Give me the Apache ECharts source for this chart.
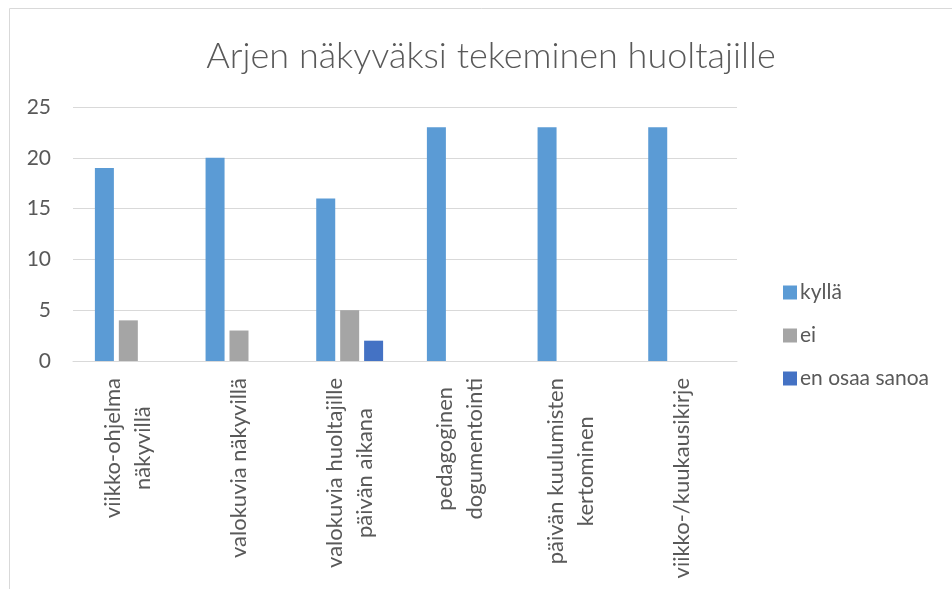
<!DOCTYPE html>
<html><head><meta charset="utf-8">
<script src="https://cdn.jsdelivr.net/npm/echarts@6/dist/echarts.min.js"></script>
<style>html,body{margin:0;padding:0;background:#fff}#c{width:952px;height:589px}</style>
</head><body><div id="c"></div>
<script>
const categories = [
  "viikko-ohjelma\nnäkyvillä",
  "valokuvia näkyvillä",
  "valokuvia huoltajille\npäivän aikana",
  "pedagoginen\ndogumentointi",
  "päivän kuulumisten\nkertominen",
  "viikko-/kuukausikirje"
];
const seriesNames = ["kyllä", "ei", "en osaa sanoa"];
const kylla = [19, 20, 16, 23, 23, 23];
const ei = [4, 3, 5, 0, 0, 0];
const enOsaa = [0, 0, 2, 0, 0, 0];
const yTicks = [0, 5, 10, 15, 20, 25];

const FONT = 'Lato';
const TXT = '#595959';
const chart = echarts.init(document.getElementById('c'), null, {renderer: 'canvas'});
const colors = ['#5B9BD5', '#A5A5A5', '#4472C4'];
const values = [kylla, ei, enOsaa];
chart.setOption({
  animation: false,
  textStyle: {fontFamily: FONT},
  graphic: [{type: 'rect', shape: {x: 9.5, y: 8.5, width: 1200, height: 1200}, style: {fill: 'none', stroke: '#D9D9D9', lineWidth: 1}, silent: true}],
  title: {
    text: 'Arjen näkyväksi tekeminen huoltajille',
    left: 486, top: 33, textAlign: 'center',
    textStyle: {fontFamily: FONT, fontSize: 36, fontWeight: 300, color: TXT}
  },
  legend: {
    orient: 'vertical', left: 778, top: 277,
    itemWidth: 14, itemHeight: 14, itemGap: 22,
    icon: 'rect',
    textStyle: {fontFamily: FONT, fontSize: 21, color: TXT, padding: [0,0,0,-2]},
    data: seriesNames
  },
  grid: {left: 73, right: 215, top: 107, bottom: 228, containLabel: false},
  xAxis: {
    type: 'category', data: categories,
    axisLine: {lineStyle: {color: '#D9D9D9', width: 1}},
    axisTick: {show: false},
    axisLabel: {
      rotate: 90, margin: 17, interval: 0, color: TXT, fontSize: 22, fontFamily: FONT,
      formatter: v => v.split('\n').map(s => '{a|' + s + '}').join('\n'),
      rich: {a: {align: 'center', fontSize: 22, fontFamily: FONT, color: TXT, lineHeight: 30}}
    }
  },
  yAxis: {
    type: 'value', min: yTicks[0], max: yTicks[yTicks.length - 1], interval: 5,
    axisLine: {show: false}, axisTick: {show: false},
    axisLabel: {color: TXT, fontSize: 21, fontFamily: FONT, margin: 22},
    splitLine: {lineStyle: {color: '#D9D9D9', width: 1}}
  },
  series: seriesNames.map((n, i) => ({
    name: n, type: 'bar', data: values[i],
    barWidth: 19, barGap: '26%',
    itemStyle: {color: colors[i]}
  }))
});
</script></body></html>
